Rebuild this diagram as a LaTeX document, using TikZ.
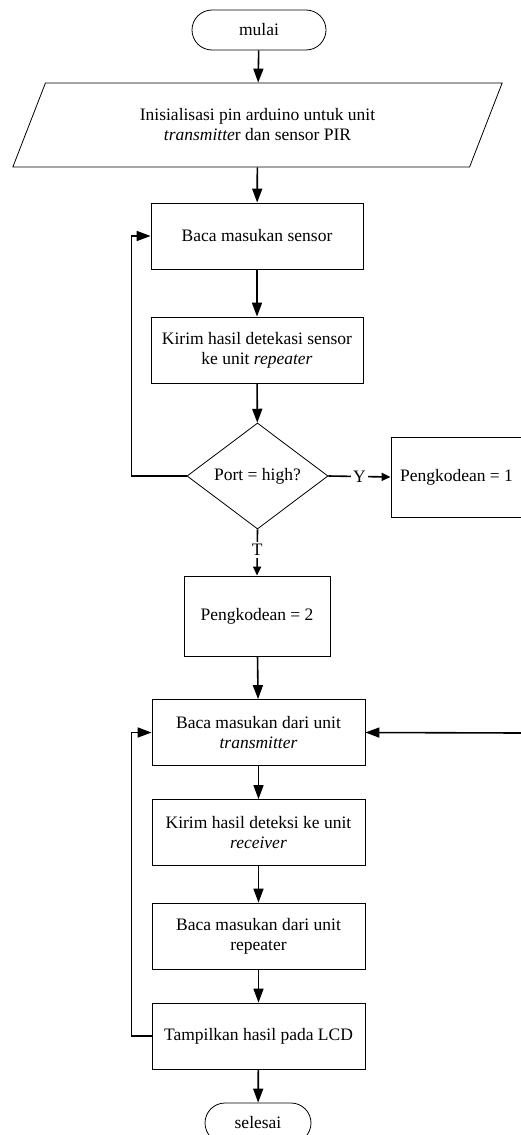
\documentclass[tikz,border=0pt]{standalone}
\usepackage{fontspec}
\setmainfont{Liberation Serif}
\usetikzlibrary{shapes,arrows.meta}

\tikzset{
    terminal/.style={rounded rectangle, draw, line width=0.8pt, minimum height=40pt, inner sep=0pt},
    proses/.style={rectangle, draw, line width=0.8pt, minimum width=213pt, minimum height=66pt, align=center, inner sep=0pt},
    masukan/.style={trapezium, trapezium left angle=64.5, trapezium right angle=115.5, trapezium stretches=true, draw, line width=0.8pt, align=center},
    keputusan/.style={diamond, aspect=1.33, draw, line width=0.8pt, inner sep=0pt},
    panah/.style={-{Triangle[length=14pt,width=10pt]}, line width=1.6pt},
    panahkecil/.style={-{Triangle[length=9pt,width=8pt]}, line width=1.6pt},
    label/.style={fill=white, inner sep=2pt}
}

\begin{document}
\begin{tikzpicture}[x=1pt, y=1pt, font=\fontsize{17.5}{20}\selectfont]
        \useasboundingbox (0,0) rectangle (520,-1135);

        % Start and input
        \node[terminal, minimum width=134pt] (mulai) at (259,-30) {mulai};
        \node[masukan, minimum width=491pt, minimum height=84pt] (inisial) at (257.5,-125) {Inisialisasi pin arduino untuk unit\\\textit{transmitte}r dan sensor PIR};

        % Sensor part
        \node[proses, minimum width=212pt] (bacasensor) at (257,-236) {Baca masukan sensor};
        \node[proses, minimum width=212pt] (kirimsensor) at (257,-350) {Kirim hasil detekasi sensor\\ke unit \textit{repeater}};
        \node[keputusan, minimum width=141pt, minimum height=106pt] (cekport) at (257.5,-476) {Port = high?};
        \node[proses, minimum width=131pt, minimum height=80pt] (kodesatu) at (456.5,-477) {Pengkodean = 1};
        \node[proses, minimum width=146pt, minimum height=80pt] (kodedua) at (257,-616) {Pengkodean = 2};

        % Repeater part
        \node[proses] (bacatx) at (258.5,-732.5) {Baca masukan dari unit\\\textit{transmitter}};
        \node[proses] (kirimrx) at (258.5,-832.5) {Kirim hasil deteksi ke unit\\\textit{receiver}};
        \node[proses] (bacarep) at (258.5,-936) {Baca masukan dari unit\\repeater};
        \node[proses] (tampil) at (258.5,-1036) {Tampilkan hasil pada LCD};
        \node[terminal, minimum width=106pt] (selesai) at (258,-1123) {selesai};
        \coordinate (kanan) at (522,-733);

        % Connectors
        \draw[panah] (mulai) -- (inisial);
        \draw[panah] (inisial) -- (bacasensor);
        \draw[panah] (bacasensor) -- (kirimsensor);
        \draw[panah] (kirimsensor) -- (cekport);
        \draw[panah] (cekport.west) -- ++(-55,0) |- (bacasensor.west);
        \draw[panahkecil] (cekport.east) -- node[label] {Y} (kodesatu.west);
        \draw[panahkecil] (cekport.south) -- node[label, pos=0.45] {T} (kodedua.north);
        \draw[panah] (kodedua) -- (bacatx);
        \draw[panah] (kanan) -- (bacatx.east);
        \draw[panah] (bacatx) -- (kirimrx);
        \draw[panah] (kirimrx) -- (bacarep);
        \draw[panah] (bacarep) -- (tampil);
        \draw[panah] (tampil.west) -- ++(-20,0) |- (bacatx.west);
        \draw[panah] (tampil) -- (selesai);
    \end{tikzpicture}
\end{document}
